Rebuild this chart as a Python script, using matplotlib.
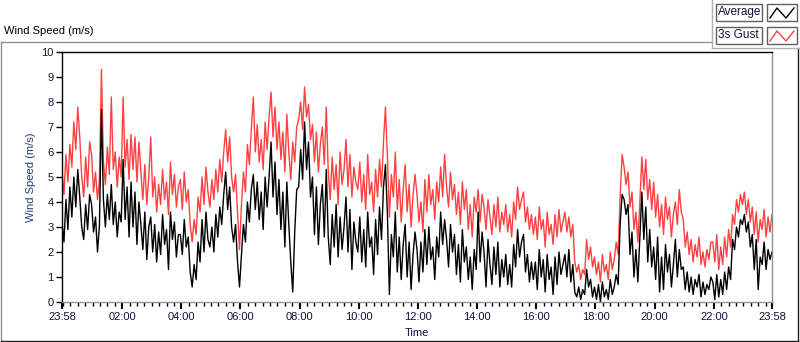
import matplotlib
matplotlib.use("Agg")
import matplotlib.pyplot as plt
from matplotlib.lines import Line2D
from matplotlib.patches import Rectangle
import numpy as np

# one reading every 4 minutes, starting at 23:58, one row per hour
step_min = 4

gust = [
    5.2, 4.3, 5.9, 4.8, 6.3, 5.4, 7.2, 6.1, 7.8, 6.6, 5.0, 4.2, 5.8, 4.6, 6.4,
    5.9, 4.4, 5.2, 4.1, 4.9, 9.3, 5.6, 4.7, 6.2, 5.1, 8.2, 5.3, 6.0, 4.6, 5.8,
    5.0, 8.2, 5.4, 6.5, 4.9, 6.7, 5.3, 6.6, 4.8, 6.4, 5.2, 4.1, 5.5, 3.9, 5.0,
    6.6, 4.2, 5.0, 3.6, 4.7, 3.9, 5.3, 4.1, 4.8, 3.5, 5.6, 4.3, 5.1, 3.8, 4.6,
    4.9, 3.7, 5.2, 4.0, 4.5, 3.1, 2.4, 3.3, 2.7, 4.2, 3.6, 5.0, 3.9, 5.4, 4.4,
    3.8, 4.9, 4.1, 5.3, 4.4, 5.7, 4.8, 6.0, 6.9, 5.6, 6.6, 5.0, 4.4, 5.1, 3.6,
    2.1, 3.9, 5.2, 4.4, 6.3, 5.5, 6.9, 8.2, 6.0, 7.1, 5.6, 6.5, 5.3, 7.2, 6.1,
    7.4, 8.4, 6.6, 7.8, 6.1, 7.2, 5.7, 6.8, 5.2, 7.5, 6.0, 4.9, 6.4, 5.6, 7.0,
    7.3, 8.0, 6.9, 8.6, 7.4, 7.9, 6.5, 7.1, 5.6, 6.8, 5.2, 6.3, 7.0, 5.5, 7.8,
    5.2, 4.1, 5.8, 4.5, 5.5, 3.9, 6.0, 4.7, 5.3, 6.5, 4.6, 5.9, 4.2, 5.4, 4.8,
    4.5, 5.6, 4.0, 5.1, 3.7, 5.9, 4.3, 4.8, 3.6, 5.3, 4.2, 5.7, 4.6, 6.4, 7.8,
    5.8, 3.4, 5.1, 4.2, 6.0, 3.7, 4.9, 3.2, 4.5, 5.5, 3.6, 4.7, 3.0, 4.3, 5.1,
    4.3, 3.2, 4.0, 2.8, 4.9, 3.6, 5.1, 3.9, 4.5, 3.3, 4.8, 4.0, 5.4, 4.2, 5.9,
    4.6, 3.8, 5.2, 4.1, 4.7, 3.5, 4.4, 3.1, 4.8, 3.7, 4.5, 2.9, 3.9, 2.6, 4.2,
    3.6, 4.5, 3.2, 4.3, 3.8, 2.9, 4.1, 3.4, 2.7, 3.9, 3.0, 4.2, 2.8, 3.6, 3.1,
    3.9, 2.8, 3.5, 2.6, 4.0, 3.3, 4.6, 3.7, 4.1, 4.4, 3.2, 3.8, 2.9, 3.5, 2.7,
    3.4, 2.5, 3.8, 2.9, 3.3, 2.2, 3.6, 2.7, 3.1, 2.3, 3.5, 2.6, 3.7, 2.8, 3.2,
    3.6, 2.8, 3.4, 2.6, 3.1, 1.6, 1.2, 1.5, 0.9, 1.3, 1.1, 2.5, 1.7, 2.2, 1.4,
    1.8, 1.1, 1.6, 0.8, 1.9, 1.2, 1.5, 0.9, 2.0, 1.3, 1.7, 2.4, 1.9, 4.2, 5.9,
    5.4, 4.7, 5.2, 3.8, 4.4, 2.9, 3.6, 2.4, 4.0, 5.8, 4.5, 5.7, 4.1, 4.9, 3.7,
    4.8, 3.4, 4.3, 3.0, 3.9, 2.7, 4.2, 3.3, 3.8, 2.6, 3.5, 4.0, 3.1, 4.5, 3.6,
    3.3, 2.2, 2.8, 1.9, 2.5, 1.6, 2.3, 1.8, 2.6, 1.5, 2.0, 1.4, 2.1, 1.7, 2.4,
    2.4, 1.6, 2.7, 1.3, 2.2, 1.5, 2.6, 1.8, 2.9, 2.2, 3.5, 3.1, 4.1, 3.6, 4.3,
    3.9, 4.4, 3.5, 4.1, 3.2, 3.8, 2.7, 3.6, 2.4, 3.3, 2.9, 3.7, 2.6, 3.4, 2.8,
    3.5,
]

average = [
    3.2, 2.4, 4.1, 2.9, 4.6, 3.4, 5.0, 3.8, 5.3, 4.2, 3.0, 2.5, 3.9, 2.9, 4.3,
    3.9, 2.8, 3.4, 2.0, 3.1, 7.7, 4.1, 3.0, 4.3, 3.3, 4.7, 3.1, 4.0, 2.6, 3.6,
    3.2, 5.7, 3.3, 4.6, 2.6, 4.8, 3.0, 4.4, 2.3, 4.0, 3.1, 2.1, 3.6, 1.7, 3.0,
    3.4, 2.0, 3.1, 1.6, 2.8, 1.9, 3.5, 2.3, 2.9, 1.3, 3.6, 2.5, 3.2, 1.8, 2.7,
    2.7, 1.9, 3.3, 2.2, 2.6, 1.2, 0.6, 1.5, 0.9, 2.4, 1.6, 3.3, 2.0, 3.6, 2.5,
    2.2, 3.0, 2.0, 3.5, 2.6, 3.8, 3.1, 4.3, 5.2, 3.7, 4.6, 3.0, 2.4, 3.1, 1.6,
    0.6, 1.9, 3.1, 2.4, 4.0, 3.2, 4.5, 5.1, 3.7, 4.8, 3.3, 4.4, 2.9, 5.0, 3.8,
    5.0, 6.4, 4.2, 5.6, 3.5, 4.9, 2.9, 4.4, 2.2, 4.8, 3.1, 1.6, 0.4, 2.8, 4.5,
    4.6, 6.1, 4.9, 7.2, 5.3, 6.4, 4.2, 5.0, 2.7, 4.6, 2.3, 3.9, 4.7, 2.6, 5.3,
    2.6, 1.5, 3.5, 2.2, 3.9, 1.8, 3.4, 2.1, 3.0, 4.2, 2.0, 3.7, 1.3, 3.2, 2.4,
    2.0, 3.4, 1.6, 2.9, 1.4, 3.6, 2.2, 2.6, 1.1, 3.3, 1.9, 3.8, 2.5, 4.6, 5.5,
    3.5, 0.3, 2.7, 1.8, 3.6, 1.2, 2.6, 0.9, 2.3, 3.1, 1.0, 2.4, 0.5, 1.9, 2.8,
    2.1, 0.8, 2.4, 1.2, 2.9, 1.5, 3.0, 1.7, 2.2, 0.9, 2.6, 1.8, 3.6, 2.3, 3.3,
    2.5, 1.4, 3.1, 2.0, 2.7, 1.1, 2.3, 0.8, 2.9, 1.6, 2.2, 0.9, 1.8, 0.5, 2.1,
    1.3, 3.6, 1.6, 2.8, 2.0, 0.6, 2.5, 1.5, 0.7, 2.2, 1.1, 2.4, 0.6, 1.7, 1.0,
    1.9, 0.7, 1.5, 0.6, 2.3, 1.4, 2.9, 1.8, 2.4, 2.7, 1.2, 1.9, 0.8, 1.6, 0.9,
    1.6, 0.5, 2.1, 1.0, 1.7, 0.4, 1.9, 0.9, 1.4, 0.3, 1.8, 0.7, 2.0, 1.1, 1.5,
    1.9, 1.0, 2.1, 0.8, 1.5, 0.4, 0.2, 0.6, 0.1, 0.5, 0.3, 1.3, 0.6, 0.9, 0.2,
    0.6, 0.1, 0.7, 0.0, 0.8, 0.2, 0.5, 0.1, 0.9, 0.3, 0.6, 1.1, 0.7, 3.1, 4.3,
    4.1, 3.5, 3.9, 1.9, 2.8, 1.0, 2.1, 0.8, 2.6, 4.4, 2.5, 3.8, 1.6, 2.9, 1.4,
    2.2, 0.9, 2.6, 0.4, 1.8, 0.5, 2.3, 1.2, 1.9, 0.6, 1.5, 2.5, 1.0, 2.1, 1.3,
    1.4, 0.5, 1.2, 0.4, 1.0, 0.3, 0.9, 0.6, 1.1, 0.2, 0.8, 0.3, 0.7, 0.5, 1.0,
    0.8, 0.1, 1.1, 0.2, 0.9, 0.3, 1.2, 0.5, 1.4, 0.9, 2.5, 2.1, 3.0, 2.6, 3.3,
    3.1, 3.5, 2.8, 3.2, 2.2, 2.7, 1.3, 2.5, 0.5, 1.8, 1.5, 2.4, 1.3, 2.1, 1.7,
    2.0,
]

tick_labels = ["23:58", "02:00", "04:00", "06:00", "08:00", "10:00", "12:00",
               "14:00", "16:00", "18:00", "20:00", "22:00", "23:58"]

t = np.arange(len(gust)) * step_min

W, H = 800, 342
def fx(x):
    return x / W
def fy(y):
    return 1 - y / H

font = "Liberation Sans"
txt_col = "#101038"

fig = plt.figure(figsize=(W / 100, H / 100), dpi=100)
ax = fig.add_axes([fx(62), fy(302), (772 - 62) / W, (302 - 52) / H])

ax.plot(t, gust, color="#ff4040", lw=1.0)
ax.plot(t, average, color="black", lw=1.0)

ax.set_xlim(0, 1440)
ax.set_ylim(0, 10)
ax.set_yticks(range(0, 11))
ax.set_xticks([0] + list(range(122, 1323, 120)) + [1440])
ax.set_xticklabels(tick_labels)
ax.set_xticks(np.arange(2, 1440, 15), minor=True)
ax.tick_params(axis="both", which="major", labelsize=8, labelcolor=txt_col,
               length=4, width=1, pad=2)
ax.tick_params(axis="x", which="major", length=5, width=1.5)
ax.tick_params(axis="x", which="minor", length=3, width=1)
for lab in ax.get_xticklabels() + ax.get_yticklabels():
    lab.set_fontfamily(font)

ax.spines["top"].set_color("black")
ax.spines["left"].set_color("black")
ax.spines["right"].set_color("#909090")
ax.spines["bottom"].set_color("#909090")
for s in ax.spines.values():
    s.set_linewidth(1)

ax.set_ylabel("Wind Speed (m/s)", fontsize=8, color="#203a70", family=font, labelpad=4)
fig.text(fx(417), fy(333), "Time", fontsize=8, family=font,
         va="center", ha="center", color=txt_col)

fig.text(fx(4), fy(31), "Wind Speed (m/s)", fontsize=8, family=font,
         va="center", ha="left")

# chart frame
def fline(xs, ys, col):
    fig.add_artist(Line2D([fx(x) for x in xs], [fy(y) for y in ys],
                          color=col, lw=1, transform=fig.transFigure))

fline([1, 712], [42, 42], "#909090")
fline([1, 1], [42, 341], "#909090")
fline([1, 798], [341, 341], "#202020")
fline([798, 798], [48, 341], "#202020")
fline([712, 712], [0, 48], "#b0b0b0")
fline([712, 800], [48, 48], "#b0b0b0")

# legend
legend_names = ["Average", "3s Gust"]
legend_cols = ["black", "#ff4040"]
for i, (name, col) in enumerate(zip(legend_names, legend_cols)):
    top = 4 + i * 23
    fig.add_artist(Rectangle((fx(716), fy(top + 17)), 46 / W, 17 / H,
                             transform=fig.transFigure, facecolor="white",
                             edgecolor="#606060", lw=1))
    fig.add_artist(Rectangle((fx(767), fy(top + 17)), 30 / W, 17 / H,
                             transform=fig.transFigure, facecolor="white",
                             edgecolor="#606060", lw=1))
    fig.text(fx(718), fy(top + 8.5), name, fontsize=8.5, family=font,
             va="center", ha="left", color=txt_col)
    fline([770, 777, 786, 794], [top + 14, top + 4, top + 14, top + 4], col)

fig.savefig("out.png", dpi=100)
